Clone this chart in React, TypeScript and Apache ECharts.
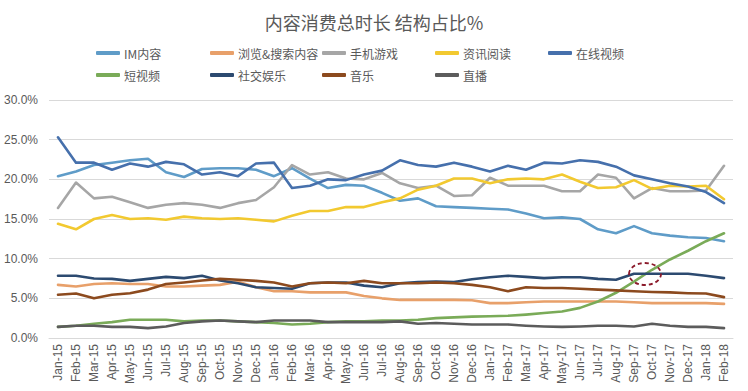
import React, { useEffect, useRef } from "react";
import * as echarts from "echarts";

const months = [
  "Jan-15", "Feb-15", "Mar-15", "Apr-15", "May-15", "Jun-15", "Jul-15", "Aug-15", "Sep-15", "Oct-15", "Nov-15", "Dec-15",
  "Jan-16", "Feb-16", "Mar-16", "Apr-16", "May-16", "Jun-16", "Jul-16", "Aug-16", "Sep-16", "Oct-16", "Nov-16", "Dec-16",
  "Jan-17", "Feb-17", "Mar-17", "Apr-17", "May-17", "Jun-17", "Jul-17", "Aug-17", "Sep-17", "Oct-17", "Nov-17", "Dec-17",
  "Jan-18", "Feb-18",
];

const seriesNames = ["IM内容", "浏览&搜索内容", "手机游戏", "资讯阅读", "在线视频", "短视频", "社交娱乐", "音乐", "直播"];

const imContent = [20.4, 21.0, 21.8, 22.1, 22.4, 22.6, 20.9, 20.3, 21.3, 21.4, 21.4, 21.2, 20.4, 21.4, 20.1, 18.9, 19.3, 19.2, 18.3, 17.3, 17.6, 16.6, 16.5, 16.4, 16.3, 16.2, 15.7, 15.1, 15.2, 15.0, 13.7, 13.2, 14.1, 13.2, 12.9, 12.7, 12.6, 12.2];
const browseSearch = [6.7, 6.5, 6.8, 6.9, 6.8, 6.8, 6.5, 6.5, 6.6, 6.7, 7.1, 6.4, 5.9, 5.9, 5.75, 5.75, 5.75, 5.3, 5.0, 4.8, 4.8, 4.8, 4.8, 4.75, 4.4, 4.4, 4.5, 4.6, 4.6, 4.6, 4.6, 4.6, 4.5, 4.4, 4.4, 4.4, 4.4, 4.3];
const mobileGames = [16.4, 19.6, 17.6, 17.8, 17.1, 16.4, 16.8, 17.0, 16.8, 16.4, 17.0, 17.4, 19.0, 21.8, 20.6, 20.9, 20.1, 20.0, 20.8, 19.5, 18.9, 19.2, 17.9, 18.0, 20.2, 19.2, 19.2, 19.2, 18.5, 18.5, 20.6, 20.2, 17.6, 18.9, 18.5, 18.5, 18.6, 21.7];
const newsReading = [14.4, 13.7, 15.0, 15.5, 15.0, 15.1, 14.9, 15.3, 15.1, 15.0, 15.1, 14.9, 14.7, 15.4, 16.0, 16.0, 16.5, 16.5, 17.1, 17.6, 18.7, 19.2, 20.1, 20.1, 19.5, 20.0, 20.1, 20.0, 20.6, 19.7, 18.9, 19.0, 19.9, 18.8, 19.2, 19.1, 19.2, 17.5];
const onlineVideo = [25.3, 22.1, 22.1, 21.2, 22.0, 21.6, 22.2, 21.9, 20.6, 20.9, 20.4, 22.0, 22.1, 18.9, 19.2, 20.0, 19.9, 20.6, 21.1, 22.4, 21.8, 21.6, 22.1, 21.6, 21.0, 21.7, 21.2, 22.1, 22.0, 22.4, 22.2, 21.6, 20.5, 20.0, 19.5, 19.1, 18.4, 17.0];
const shortVideo = [1.4, 1.55, 1.8, 2.0, 2.3, 2.3, 2.3, 2.1, 2.2, 2.2, 2.1, 2.0, 1.9, 1.7, 1.8, 2.0, 2.1, 2.1, 2.2, 2.2, 2.3, 2.5, 2.6, 2.7, 2.75, 2.8, 2.95, 3.15, 3.35, 3.8, 4.6, 5.7, 7.1, 8.6, 9.9, 11.0, 12.2, 13.2];
const socialEnt = [7.85, 7.85, 7.5, 7.45, 7.2, 7.45, 7.7, 7.55, 7.85, 7.25, 6.9, 6.4, 6.3, 6.2, 6.9, 7.0, 7.0, 6.6, 6.4, 6.9, 7.05, 7.1, 7.05, 7.4, 7.65, 7.85, 7.7, 7.55, 7.65, 7.65, 7.45, 7.35, 8.1, 8.1, 8.1, 8.1, 7.85, 7.55];
const music = [5.45, 5.6, 5.0, 5.45, 5.65, 6.1, 6.8, 7.0, 7.25, 7.45, 7.35, 7.2, 7.0, 6.5, 6.9, 7.0, 6.9, 7.2, 6.9, 6.9, 6.9, 7.0, 6.9, 6.7, 6.4, 5.9, 6.4, 6.3, 6.3, 6.2, 6.1, 6.0, 5.9, 5.8, 5.75, 5.65, 5.6, 5.15];
const liveStream = [1.4, 1.55, 1.55, 1.4, 1.4, 1.25, 1.45, 1.9, 2.1, 2.2, 2.1, 2.0, 2.2, 2.2, 2.2, 2.0, 2.0, 2.0, 2.0, 2.1, 1.8, 1.9, 1.8, 1.7, 1.7, 1.7, 1.55, 1.45, 1.4, 1.45, 1.55, 1.55, 1.45, 1.8, 1.55, 1.4, 1.4, 1.25];

const seriesData = [imContent, browseSearch, mobileGames, newsReading, onlineVideo, shortVideo, socialEnt, music, liveStream];

const yTicks = [0, 5, 10, 15, 20, 25, 30];

const colors = ["#5f9cc8", "#e8a06a", "#a6a6a6", "#f2c930", "#4670ac", "#7aab58", "#2c4a70", "#8c4a1e", "#5c5c5c"];
const legendPos = [
  [96, 47], [210, 47], [322, 47], [435, 47], [548, 47],
  [96, 69], [210, 69], [322, 69], [435, 69],
];

export default function App() {
  const ref = useRef<HTMLDivElement>(null);
  useEffect(() => {
    if (!ref.current) return;
    const chart = echarts.init(ref.current, undefined, { renderer: "svg" });
    const font = "'Noto Sans CJK SC', 'Liberation Sans', sans-serif";
    chart.setOption({
      animation: false,
      backgroundColor: "#ffffff",
      textStyle: { fontFamily: font },
      title: {
        text: "内容消费总时长 结构占比%",
        left: "center",
        top: 8,
        textStyle: { fontSize: 18, fontWeight: "normal", color: "#595959", fontFamily: font },
      },
      legend: seriesNames.map((n, i) => ({
        data: [n],
        left: legendPos[i][0],
        top: legendPos[i][1],
        icon: "roundRect",
        itemWidth: 24,
        itemHeight: 4,
        itemGap: 6,
        padding: 0,
        textStyle: { fontSize: 12, color: "#595959", fontFamily: font, padding: [0, 0, 0, -1] },
      })),
      grid: { left: 49, right: 15, top: 100, bottom: 53, containLabel: false },
      xAxis: {
        type: "category",
        data: months,
        boundaryGap: true,
        axisLine: { lineStyle: { color: "#d9d9d9" } },
        axisTick: { show: false },
        axisLabel: { interval: 0, rotate: 90, fontSize: 12, color: "#595959", margin: 6, fontFamily: "'Liberation Sans', sans-serif" },
      },
      yAxis: {
        type: "value",
        min: yTicks[0],
        max: yTicks[yTicks.length - 1],
        interval: 5,
        axisLine: { show: false },
        axisTick: { show: false },
        splitLine: { lineStyle: { color: "#d9d9d9", width: 1 } },
        axisLabel: {
          fontSize: 12,
          color: "#595959",
          margin: 11,
          fontFamily: "'Liberation Sans', sans-serif",
          formatter: (v: number) => v.toFixed(1) + "%",
        },
      },
      series: seriesNames.map((n, i) => ({
        name: n,
        type: "line",
        data: seriesData[i],
        showSymbol: false,
        symbol: "none",
        color: colors[i],
        lineStyle: { width: 2.6, color: colors[i], cap: "round", join: "round" },
      })),
      graphic: [
        {
          type: "ellipse",
          shape: { cx: 645, cy: 274, rx: 16, ry: 11 },
          style: { fill: "none", stroke: "#8b1a2b", lineWidth: 1.8, lineDash: [4, 3] },
          z: 100,
        },
      ],
    });
    return () => chart.dispose();
  }, []);
  return (
    <div
      ref={ref}
      style={{ position: "fixed", left: 0, top: 0, width: 748, height: 391, background: "#fff" }}
    />
  );
}
